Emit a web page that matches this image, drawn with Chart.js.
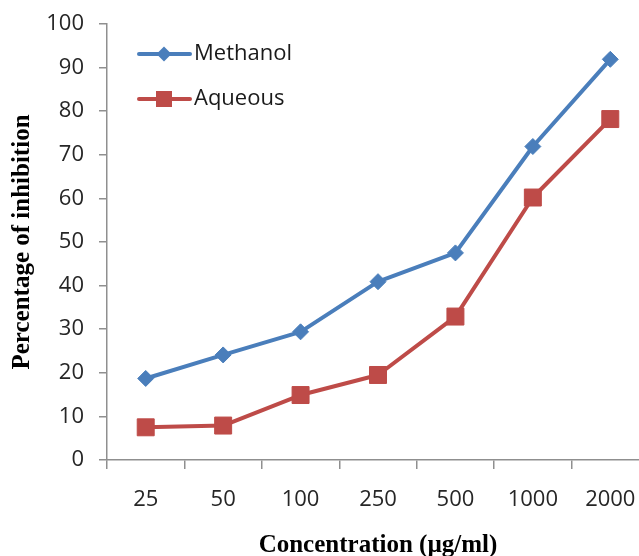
<!DOCTYPE html>
<html>
<head>
<meta charset="utf-8">
<title>Percentage of inhibition</title>
<script src="https://cdn.jsdelivr.net/npm/chart.js@4"></script>
<style>
  html, body { margin: 0; padding: 0; background: #fff; overflow: hidden; }
  #wrap { width: 639px; height: 556px; overflow: hidden; }
</style>
</head>
<body>
<div id="wrap"><canvas id="chart" width="662" height="556"></canvas></div>
<script>
// Concentrations tested (µg/ml) and percentage inhibition for each extract
const concentrations = ['25', '50', '100', '250', '500', '1000', '2000'];
const methanol = [18.7, 24.1, 29.4, 40.9, 47.5, 71.9, 91.9];
const aqueous = [7.5, 7.9, 14.9, 19.5, 32.9, 60.2, 78.2];
const yMin = 0, yMax = 100, yStep = 10;

const BLUE = '#4a7ebb';
const RED = '#be4b48';
const AXIS = '#8f8f8f';
const TICK_FONT = { family: '"Open Sans", sans-serif', size: 22 };
const TITLE_FONT = { family: '"Liberation Serif", "Times New Roman", serif', size: 25, weight: 'bold', lineHeight: 1 };

// Legend drawn inside the plot area: line sample with marker, then label
const insideLegend = {
  id: 'insideLegend',
  afterDraw(chart) {
    const { ctx, chartArea } = chart;
    const x0 = chartArea.left + 32, x1 = chartArea.left + 83, xm = chartArea.left + 57;
    chart.data.datasets.forEach((ds, i) => {
      const y = chartArea.top + 30 + i * 45;
      ctx.save();
      ctx.strokeStyle = ds.borderColor;
      ctx.lineWidth = 4;
      ctx.lineCap = 'round';
      ctx.beginPath();
      ctx.moveTo(x0, y);
      ctx.lineTo(x1, y);
      ctx.stroke();
      ctx.fillStyle = ds.pointBackgroundColor;
      ctx.beginPath();
      if (ds.pointStyle === 'rectRot') {
        const r = 7.5;
        ctx.moveTo(xm, y - r);
        ctx.lineTo(xm + r, y);
        ctx.lineTo(xm, y + r);
        ctx.lineTo(xm - r, y);
        ctx.closePath();
      } else {
        const h = 8;
        ctx.rect(xm - h, y - h, 2 * h, 2 * h);
      }
      ctx.fill();
      ctx.fillStyle = '#1a1a1a';
      ctx.font = TICK_FONT.size + 'px ' + TICK_FONT.family;
      ctx.textAlign = 'left';
      ctx.textBaseline = 'middle';
      ctx.fillText(ds.label, x1 + 4, y);
      ctx.restore();
    });
  }
};

new Chart(document.getElementById('chart'), {
  type: 'line',
  data: {
    labels: concentrations,
    datasets: [
      {
        label: 'Methanol',
        data: methanol,
        borderColor: BLUE,
        backgroundColor: BLUE,
        borderWidth: 4,
        pointStyle: 'rectRot',
        pointRadius: 8,
        pointBorderWidth: 1,
        pointBackgroundColor: BLUE,
        pointBorderColor: BLUE,
        tension: 0,
        borderJoinStyle: 'round'
      },
      {
        label: 'Aqueous',
        data: aqueous,
        borderColor: RED,
        backgroundColor: RED,
        borderWidth: 4,
        pointStyle: 'rect',
        pointRadius: 12,
        pointBorderWidth: 1,
        pointBackgroundColor: RED,
        pointBorderColor: RED,
        tension: 0,
        borderJoinStyle: 'round'
      }
    ]
  },
  options: {
    responsive: false,
    animation: false,
    events: [],
    layout: { padding: { top: 24, left: 0, right: 0, bottom: 0 } },
    plugins: {
      legend: { display: false },
      tooltip: { enabled: false }
    },
    scales: {
      x: {
        type: 'category',
        offset: true,
        afterFit(scale) { scale.height = 96; },
        grid: {
          offset: true,
          drawOnChartArea: false,
          drawTicks: true,
          tickLength: 9,
          color: AXIS,
          lineWidth: 1.5
        },
        border: { display: true, color: AXIS, width: 1.5 },
        ticks: {
          color: '#262626',
          font: TICK_FONT,
          padding: 18,
          maxRotation: 0,
          autoSkip: false
        },
        title: {
          display: true,
          text: 'Concentration (µg/ml)',
          color: '#000',
          font: TITLE_FONT,
          padding: { top: 0, bottom: -2 }
        }
      },
      y: {
        min: yMin,
        max: yMax,
        afterFit(scale) {
          scale.width = 107;
          scale.paddingTop = 0;
          scale.paddingBottom = 0;
        },
        grid: {
          drawOnChartArea: false,
          drawTicks: true,
          tickLength: 8,
          color: AXIS,
          lineWidth: 1.5
        },
        border: { display: true, color: AXIS, width: 1.5 },
        ticks: {
          stepSize: yStep,
          color: '#262626',
          font: TICK_FONT,
          padding: 15
        },
        title: {
          display: true,
          text: 'Percentage of inhibition',
          color: '#000',
          font: TITLE_FONT,
          padding: { top: 10, bottom: 0 }
        }
      }
    }
  },
  plugins: [insideLegend]
});
</script>
</body>
</html>
